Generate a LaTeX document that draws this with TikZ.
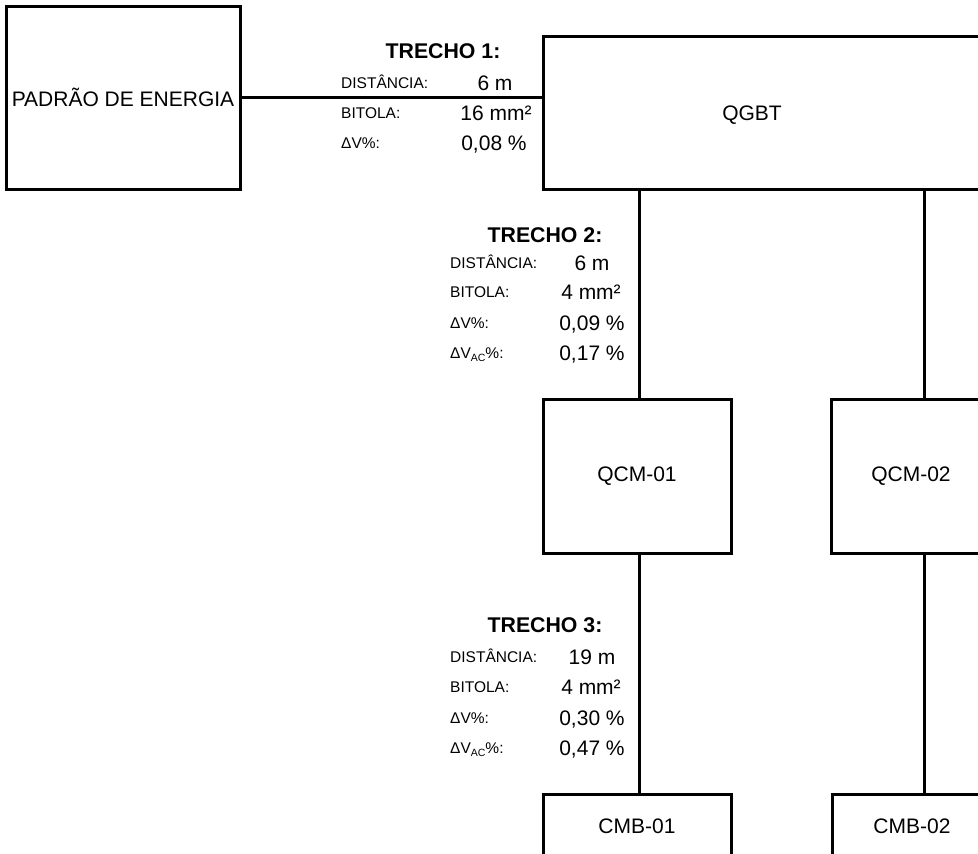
\documentclass[tikz,border=0pt]{standalone}
\usepackage{fontspec}
\setmainfont{Liberation Sans}
\begin{document}
\begin{tikzpicture}[x=1pt,y=-1pt,
  box/.style={draw,line width=3pt,inner sep=0pt,minimum width=#1},
  boxtxt/.style={font=\fontsize{21}{25}\selectfont,inner sep=0pt},
  wire/.style={line width=3pt},
  lab/.style={font=\fontsize{15.5}{18}\selectfont,anchor=west,inner sep=0pt,text height=11.1pt,text depth=0pt},
  val/.style={font=\fontsize{21}{25}\selectfont,inner sep=0pt,text height=15pt,text depth=0pt},
  ttl/.style={font=\fontsize{21.3}{25}\selectfont\bfseries,inner sep=0pt,text height=15.2pt,text depth=0pt}]
\useasboundingbox (0,0) rectangle (978,854);
\clip (0,0) rectangle (978,854);
% boxes
\node[box=234pt,minimum height=183pt,boxtxt] (pad) at (123,97.5) {PADRÃO DE ENERGIA};
\node[box=500pt,minimum height=153pt] (qgbt) at (793,112.5) {};
\node[boxtxt] (qgbtt) at (752,115) {QGBT};
\node[box=188pt,minimum height=154pt,boxtxt] (qcm1) at (637,476) {QCM-01};
\node[box=160pt,minimum height=154pt,boxtxt] (qcm2) at (911,476) {QCM-02};
\node[box=188pt,minimum height=64pt,boxtxt] (cmb1) at (637,826) {CMB-01};
\node[box=160pt,minimum height=64pt,boxtxt] (cmb2) at (912,826) {CMB-02};
% connectors
\draw[wire] (pad.east) -- (pad.east -| qgbt.west);
\draw[wire] ([xshift=2pt]qcm1.north) -- ([xshift=2pt]qcm1.north |- qgbt.south);
\draw[wire] ([xshift=95pt]qcm2.north west) -- ([xshift=95pt]qcm2.north west |- qgbt.south);
\draw[wire] ([xshift=2pt]qcm1.south) -- ([xshift=2pt]qcm1.south |- cmb1.north);
\draw[wire] ([xshift=95pt]qcm2.south west) -- ([xshift=95pt]qcm2.south west |- cmb2.north);
% TRECHO 1
\node[ttl] (t1) at (443,51) {TRECHO 1:};
\node[lab] (t1a) at (341,83) {DISTÂNCIA:};
\node[val] (t1av) at (495,83) {6 m};
\node[lab] (t1b) at (341,113) {BITOLA:};
\node[val] (t1bv) at (496,113) {16 mm²};
\node[lab] (t1c) at (341,143) {ΔV\%:};
\node[val] (t1cv) at (494,143) {0,08 \%};
% TRECHO 2
\node[ttl] (t2) at (545,235) {TRECHO 2:};
\node[lab] (t2a) at (450,263) {DISTÂNCIA:};
\node[val] (t2av) at (592,263) {6 m};
\node[lab] (t2b) at (450,292) {BITOLA:};
\node[val] (t2bv) at (591,292) {4 mm²};
\node[lab] (t2c) at (450,323) {ΔV\%:};
\node[val] (t2cv) at (592,323) {0,09 \%};
\node[lab] (t2d) at (450,353) {ΔV\raisebox{-0.3ex}{\fontsize{10.5}{12}\selectfont AC}\%:};
\node[val] (t2dv) at (592,353) {0,17 \%};
% TRECHO 3
\node[ttl] (t3) at (545,625) {TRECHO 3:};
\node[lab] (t3a) at (450,657) {DISTÂNCIA:};
\node[val] (t3av) at (592,657) {19 m};
\node[lab] (t3b) at (450,687) {BITOLA:};
\node[val] (t3bv) at (591,687) {4 mm²};
\node[lab] (t3c) at (450,718) {ΔV\%:};
\node[val] (t3cv) at (592,718) {0,30 \%};
\node[lab] (t3d) at (450,748) {ΔV\raisebox{-0.3ex}{\fontsize{10.5}{12}\selectfont AC}\%:};
\node[val] (t3dv) at (592,748) {0,47 \%};
\end{tikzpicture}
\end{document}
